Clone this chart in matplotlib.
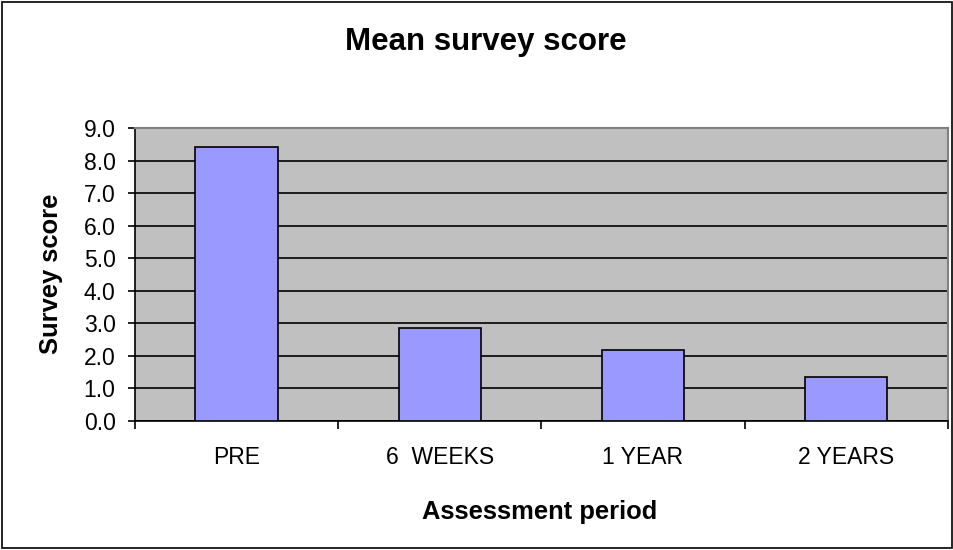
import matplotlib.pyplot as plt
from matplotlib.patches import Rectangle

plt.rcParams['font.family'] = ['Liberation Sans', 'DejaVu Sans']

# 数据
periods = ['PRE', '6  WEEKS', '1 YEAR', '2 YEARS']
scores = [8.43, 2.87, 2.17, 1.35]
y_ticks = [0.0, 1.0, 2.0, 3.0, 4.0, 5.0, 6.0, 7.0, 8.0, 9.0]

fig = plt.figure(figsize=(9.54, 5.5), dpi=100)
# 外框
fig.patches.append(Rectangle((0.002, 0.003), 0.996, 0.994, transform=fig.transFigure,
                             fill=False, edgecolor='black', linewidth=1.2))

ax = fig.add_axes([0.1415, 0.2345, 0.852, 0.5328])
ax.set_facecolor('#c0c0c0')

x = range(len(periods))
ax.bar(x, scores, width=0.405, color='#9999ff', edgecolor='black', linewidth=1.2, zorder=3)

ax.set_xlim(-0.5, len(periods) - 0.5)
ax.set_ylim(0, 9)
ax.set_yticks(y_ticks)
ax.set_yticklabels(['%.1f' % v for v in y_ticks], fontsize=16.5)
ax.yaxis.grid(True, color='black', linewidth=1.2, zorder=1)
ax.set_axisbelow(True)

# 类别刻度在边界上，标签在中间
ax.set_xticks([i - 0.5 for i in range(len(periods) + 1)])
ax.set_xticklabels([])
ax.set_xticks(list(x), minor=True)
ax.set_xticklabels(periods, minor=True, fontsize=16.5)
ax.tick_params(axis='x', which='minor', length=0, pad=18)
ax.tick_params(axis='x', which='major', length=6, width=1.2, direction='out')
ax.tick_params(axis='y', length=5, width=1.2, direction='out', pad=9)

for s in ['top', 'right']:
    ax.spines[s].set_color('#808080')
    ax.spines[s].set_linewidth(1.5)
for s in ['left', 'bottom']:
    ax.spines[s].set_color('black')
    ax.spines[s].set_linewidth(1.2)

fig.text(540 / 954, 0.069, 'Assessment period', ha='center', va='center',
         fontsize=18.4, fontweight='bold')
fig.text(51 / 954, 0.503, 'Survey score', ha='center', va='center', rotation=90,
         fontsize=18.4, fontweight='bold')
fig.text(0.509, 0.924, 'Mean survey score', ha='center', va='center',
         fontsize=22.5, fontweight='bold')

plt.savefig('out.png', dpi=100)
